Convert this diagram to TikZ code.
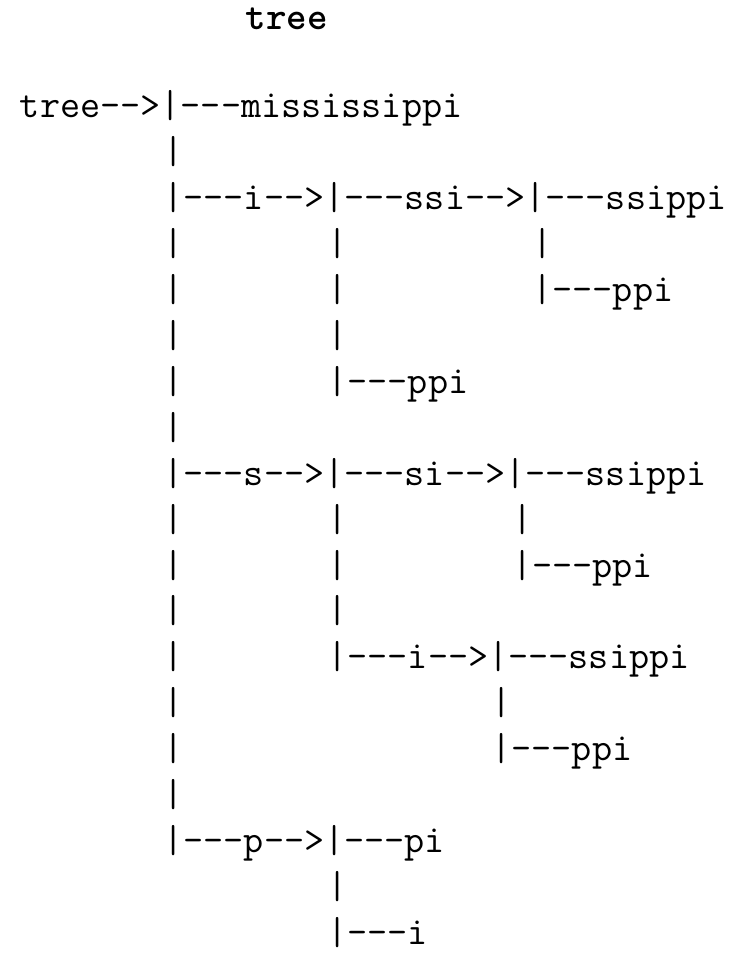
\documentclass[tikz,border=0pt]{standalone}
\usepackage{fontspec}
\begin{document}
\begin{tikzpicture}[x=20.5pt,y=-45.9pt,
  txt/.style={anchor=base west,inner sep=0pt,outer sep=0pt,text=black,
    font=\ttfamily\fontsize{39.05pt}{44pt}\selectfont},
  ttl/.style={txt,font=\ttfamily\bfseries\fontsize{39.05pt}{44pt}\selectfont}]
\useasboundingbox[fill=white] (-20pt,-839pt) rectangle (722pt,118pt);
\node[ttl] (title) at (225.5pt,88pt) {tree};
% row 0
\node[txt] (r0) at (0,0) {tree-->|---mississippi};
\node[txt] (r1a) at (7,1) {|};
\node[txt] (r2) at (7,2) {|---i-->|---ssi-->|---ssippi};
\node[txt] (r3a) at (7,3) {|};
\node[txt] (r3b) at (15,3) {|};
\node[txt] (r3c) at (25,3) {|};
\node[txt] (r4a) at (7,4) {|};
\node[txt] (r4b) at (15,4) {|};
\node[txt] (r4c) at (25,4) {|---ppi};
\node[txt] (r5a) at (7,5) {|};
\node[txt] (r5b) at (15,5) {|};
\node[txt] (r6a) at (7,6) {|};
\node[txt] (r6b) at (15,6) {|---ppi};
\node[txt] (r7a) at (7,7) {|};
\node[txt] (r8) at (7,8) {|---s-->|---si-->|---ssippi};
\node[txt] (r9a) at (7,9) {|};
\node[txt] (r9b) at (15,9) {|};
\node[txt] (r9c) at (24,9) {|};
\node[txt] (r10a) at (7,10) {|};
\node[txt] (r10b) at (15,10) {|};
\node[txt] (r10c) at (24,10) {|---ppi};
\node[txt] (r11a) at (7,11) {|};
\node[txt] (r11b) at (15,11) {|};
\node[txt] (r12a) at (7,12) {|};
\node[txt] (r12b) at (15,12) {|---i-->|---ssippi};
\node[txt] (r13a) at (7,13) {|};
\node[txt] (r13c) at (23,13) {|};
\node[txt] (r14a) at (7,14) {|};
\node[txt] (r14c) at (23,14) {|---ppi};
\node[txt] (r15a) at (7,15) {|};
\node[txt] (r16) at (7,16) {|---p-->|---pi};
\node[txt] (r17b) at (15,17) {|};
\node[txt] (r18b) at (15,18) {|---i};
\end{tikzpicture}
\end{document}
